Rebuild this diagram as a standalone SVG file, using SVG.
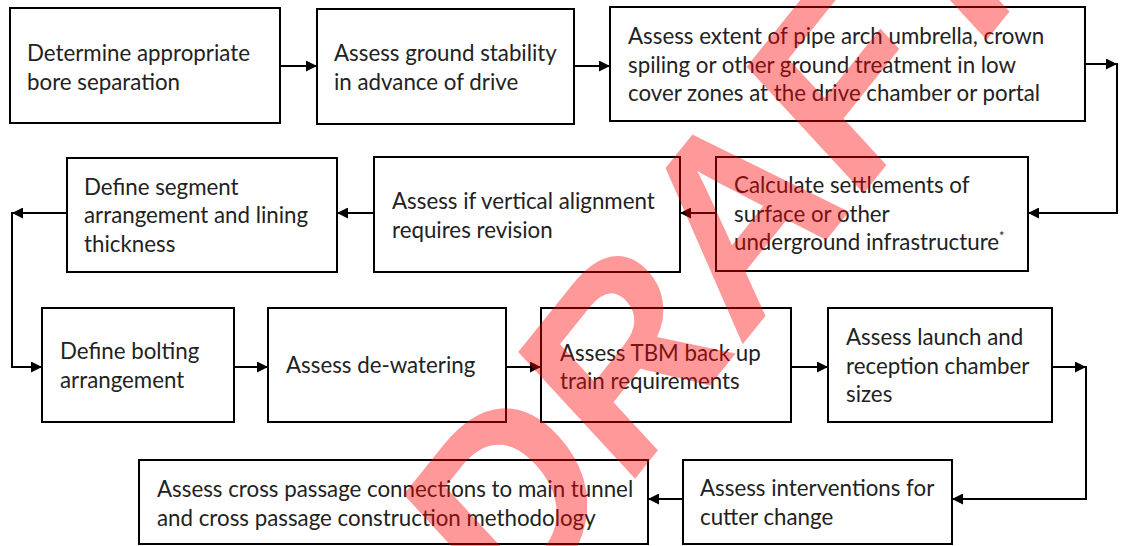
<svg xmlns="http://www.w3.org/2000/svg" width="1124" height="546" viewBox="0 0 1124 546">
  <defs>
    <marker id="arrow" viewBox="0 0 10 10" refX="10" refY="5" markerWidth="11" markerHeight="11" markerUnits="userSpaceOnUse" orient="auto">
      <path d="M0,0 L10,5 L0,10 z" fill="#000"/>
    </marker>
    <style>
      .box { fill: #fff; stroke: #000; stroke-width: 2; }
      .lbl { font-family: Lato, "Liberation Sans", sans-serif; font-size: 22.3px; fill: #222; }
      .sup { font-size: 13px; }
      .edge { fill: none; stroke: #000; stroke-width: 2; }
      .arr { marker-end: url(#arrow); }
      .stamp { font-family: "Liberation Sans", Arial, sans-serif; font-weight: bold; font-size: 270px; fill: #ff0000; fill-opacity: 0.4; }
    </style>
  </defs>
  <rect width="1124" height="546" fill="#fff"/>

  <!-- process steps -->
  <g id="n1">
    <rect class="box" x="10" y="8" width="270" height="115"/>
    <text class="lbl" x="27" y="61">Determine appropriate</text>
    <text class="lbl" x="27" y="90">bore separation</text>
  </g>
  <g id="n2">
    <rect class="box" x="317" y="9" width="257" height="115"/>
    <text class="lbl" x="334" y="61">Assess ground stability</text>
    <text class="lbl" x="334" y="90">in advance of drive</text>
  </g>
  <g id="n3">
    <rect class="box" x="610" y="7" width="475" height="114"/>
    <text class="lbl" x="628" y="44">Assess extent of pipe arch umbrella, crown</text>
    <text class="lbl" x="628" y="73">spiling or other ground treatment in low</text>
    <text class="lbl" x="628" y="101">cover zones at the drive chamber or portal</text>
  </g>
  <g id="n4">
    <rect class="box" x="716" y="157" width="312" height="114"/>
    <text class="lbl" x="734" y="193">Calculate settlements of</text>
    <text class="lbl" x="734" y="222">surface or other</text>
    <text class="lbl" x="734" y="250">underground infrastructure<tspan class="sup" dy="-9">*</tspan></text>
  </g>
  <g id="n5">
    <rect class="box" x="374" y="157" width="306" height="115"/>
    <text class="lbl" x="392" y="209">Assess if vertical alignment</text>
    <text class="lbl" x="392" y="238">requires revision</text>
  </g>
  <g id="n6">
    <rect class="box" x="67" y="158" width="270" height="114"/>
    <text class="lbl" x="84" y="195">Define segment</text>
    <text class="lbl" x="84" y="223">arrangement and lining</text>
    <text class="lbl" x="84" y="252">thickness</text>
  </g>
  <g id="n7">
    <rect class="box" x="42" y="308" width="192" height="114"/>
    <text class="lbl" x="60" y="359">Define bolting</text>
    <text class="lbl" x="60" y="388">arrangement</text>
  </g>
  <g id="n8">
    <rect class="box" x="268" y="308" width="238" height="114"/>
    <text class="lbl" x="286" y="373">Assess de-watering</text>
  </g>
  <g id="n9">
    <rect class="box" x="541" y="308" width="250" height="114"/>
    <text class="lbl" x="560" y="361">Assess TBM back up</text>
    <text class="lbl" x="560" y="389">train requirements</text>
  </g>
  <g id="n10">
    <rect class="box" x="828" y="308" width="224" height="114"/>
    <text class="lbl" x="846" y="345">Assess launch and</text>
    <text class="lbl" x="846" y="374">reception chamber</text>
    <text class="lbl" x="846" y="402">sizes</text>
  </g>
  <g id="n11">
    <rect class="box" x="683" y="460" width="269" height="84"/>
    <text class="lbl" x="700" y="496">Assess interventions for</text>
    <text class="lbl" x="700" y="525">cutter change</text>
  </g>
  <g id="n12">
    <rect class="box" x="139" y="460" width="509" height="84"/>
    <text class="lbl" x="157" y="497">Assess cross passage connections to main tunnel</text>
    <text class="lbl" x="157" y="526">and cross passage construction methodology</text>
  </g>

  <!-- flow connectors -->
  <g id="connectors">
    <path class="edge arr" d="M280,66 H317"/>
    <path class="edge arr" d="M574,66 H610"/>
    <path class="edge arr" d="M1085,64 H1117"/>
    <path class="edge arr" d="M1117,63 V213 H1028"/>
    <path class="edge arr" d="M716,213 H680"/>
    <path class="edge arr" d="M374,213 H337"/>
    <path class="edge arr" d="M67,213 H12"/>
    <path class="edge arr" d="M12,212 V367 H42"/>
    <path class="edge arr" d="M234,367 H268"/>
    <path class="edge arr" d="M506,367 H541"/>
    <path class="edge arr" d="M791,367 H828"/>
    <path class="edge arr" d="M1052,367 H1086"/>
    <path class="edge arr" d="M1086,366 V499 H952"/>
    <path class="edge arr" d="M683,499 H648"/>
  </g>

  <!-- draft stamp -->
  <g id="stamp" transform="scale(0.86,1)">
    <text class="stamp" text-anchor="middle" transform="translate(905,300) rotate(-47)">DRAFT</text>
  </g>
</svg>
